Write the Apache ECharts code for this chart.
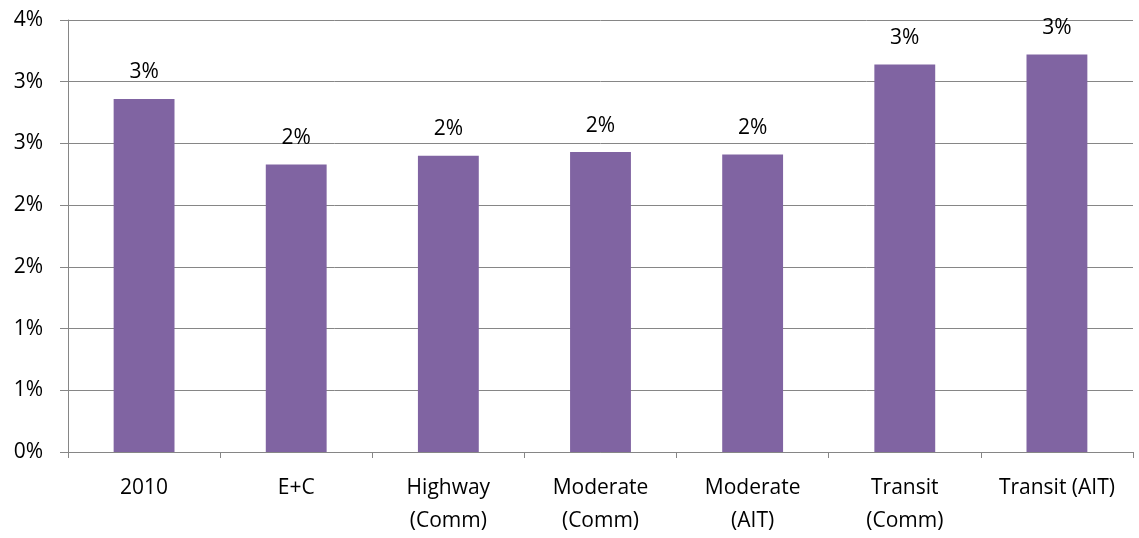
<!DOCTYPE html>
<html>
<head>
<meta charset="utf-8">
<script src="https://cdn.jsdelivr.net/npm/echarts@6/dist/echarts.min.js"></script>
<style>
  html, body { margin: 0; padding: 0; background: #fff; }
  #chart { width: 1139px; height: 538px; }
</style>
</head>
<body>
<div id="chart"></div>
<script>
// Share by scenario, in percent
const categories = ['2010', 'E+C', 'Highway\n(Comm)', 'Moderate\n(Comm)', 'Moderate\n(AIT)', 'Transit\n(Comm)', 'Transit (AIT)'];
const shares = [2.86, 2.33, 2.40, 2.43, 2.41, 3.14, 3.22];

const FONT = '"Open Sans", sans-serif';
const chart = echarts.init(document.getElementById('chart'));
chart.setOption({
  animation: false,
  grid: { left: 68, right: 6, top: 20, bottom: 84, containLabel: false },
  xAxis: {
    type: 'category',
    data: categories,
    axisLine: { lineStyle: { color: '#868686', width: 1 } },
    axisTick: { show: true, length: 6, alignWithLabel: false, lineStyle: { color: '#868686' } },
    axisLabel: {
      color: '#000', fontFamily: FONT, fontSize: 21, lineHeight: 33, margin: 20, interval: 0
    }
  },
  yAxis: {
    type: 'value',
    min: 0, max: 3.5, interval: 0.5,
    axisLine: { show: true, lineStyle: { color: '#868686', width: 1 } },
    axisTick: { show: true, length: 8, lineStyle: { color: '#868686' } },
    splitLine: { lineStyle: { color: '#868686', width: 1 } },
    axisLabel: {
      color: '#000', fontFamily: FONT, fontSize: 21, margin: 25,
      formatter: v => Math.round(v) + '%'
    }
  },
  series: [{
    type: 'bar',
    data: shares,
    barWidth: '40%',
    itemStyle: { color: '#8064A2' },
    label: {
      show: true, position: 'top', distance: 16,
      color: '#000', fontFamily: FONT, fontSize: 21,
      formatter: p => Math.round(p.value) + '%'
    }
  }]
});
</script>
</body>
</html>
